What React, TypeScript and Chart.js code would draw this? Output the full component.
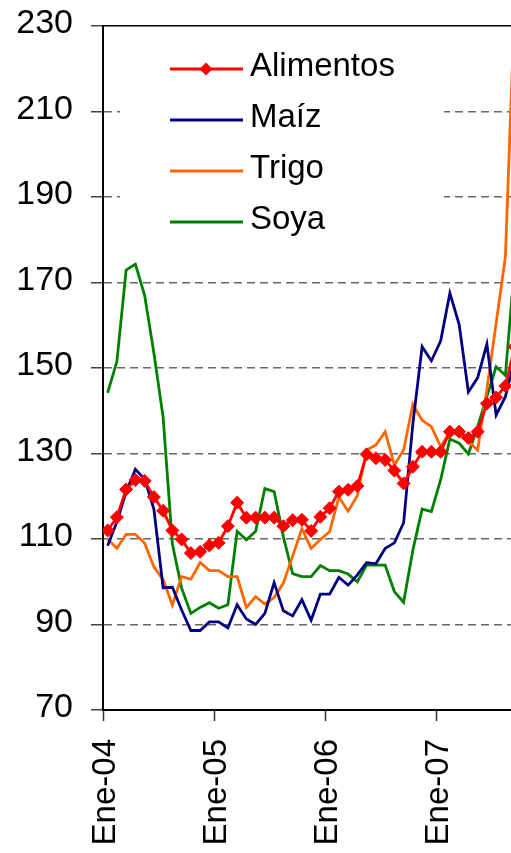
import { useEffect, useRef } from "react";
import { Chart, registerables } from "chart.js";

Chart.register(...registerables);

// Categories: monthly, Jan 2004 .. Sep 2007
const months = [
  "Ene-04", "Feb-04", "Mar-04", "Abr-04", "May-04", "Jun-04", "Jul-04", "Ago-04", "Sep-04", "Oct-04", "Nov-04", "Dic-04",
  "Ene-05", "Feb-05", "Mar-05", "Abr-05", "May-05", "Jun-05", "Jul-05", "Ago-05", "Sep-05", "Oct-05", "Nov-05", "Dic-05",
  "Ene-06", "Feb-06", "Mar-06", "Abr-06", "May-06", "Jun-06", "Jul-06", "Ago-06", "Sep-06", "Oct-06", "Nov-06", "Dic-06",
  "Ene-07", "Feb-07", "Mar-07", "Abr-07", "May-07", "Jun-07", "Jul-07", "Ago-07", "Sep-07",
];
const xTickLabels = ["Ene-04", "Ene-05", "Ene-06", "Ene-07"];
const yTickValues = [70, 90, 110, 130, 150, 170, 190, 210, 230];

const alimentos = [
  112, 115.1, 121.6, 123.8, 123.6, 119.8, 116.6, 112, 109.9, 106.7, 107, 108.5,
  109.1, 113, 118.5, 115, 115, 115, 115, 113, 114.4, 114.5, 111.9, 115.2,
  117.2, 121.1, 121.5, 122.4, 129.8, 128.9, 128.5, 126, 123, 126.9, 130.4, 130.4,
  130.4, 135.1, 135.1, 133.6, 135.1, 141.7, 143.1, 145.8, 155,
];
const maiz = [
  108.4, 114, 121, 126.3, 124, 117, 98.6, 98.7, 93.4, 88.6, 88.6, 90.6,
  90.6, 89.2, 94.6, 91.3, 90, 92.6, 99.8, 93.2, 92, 95.8, 91, 97.1,
  97.1, 101, 99.2, 101.6, 104.5, 104.2, 107.8, 109.1, 113.8, 137, 155, 151.7,
  156.3, 167.5, 160.2, 144.4, 147.7, 155.6, 139, 143.3, 152,
];
const trigo = [
  110, 107.8, 111.1, 111.1, 109, 103.5, 100.5, 94.5, 101.2, 100.6, 104.5, 102.6,
  102.6, 101.2, 101.2, 94, 96.5, 94.8, 96.3, 99.7, 106, 112.4, 107.8, 109.9,
  111.7, 119.8, 116.5, 120.2, 130.8, 132, 135.1, 127.3, 130.8, 141.5, 137.8, 136.3,
  131.6, 135.1, 134.3, 132.8, 130.8, 145, 160.5, 176, 235,
];
const soya = [
  144.2, 151.5, 172.9, 174.3, 167, 153.5, 138.5, 108.8, 98.5, 92.6, 94, 95.1,
  93.8, 94.6, 111.8, 109.8, 111.8, 121.8, 121.1, 110.5, 101.9, 101.2, 101.2, 103.8,
  102.6, 102.6, 101.8, 100, 103.9, 103.9, 103.9, 97.7, 95.2, 107.4, 117, 116.4,
  123.8, 133.4, 132.4, 129.9, 136.3, 143.3, 150.3, 148.3, 174,
];

const seriesNames = ["Alimentos", "Maíz", "Trigo", "Soya"];
const seriesColors = ["#FF0000", "#000080", "#FF6600", "#008000"];

const FONT = "'Liberation Sans', Arial, Helvetica, sans-serif";

const toPoints = (arr: number[]) => arr.map((v, i) => ({ x: i + 0.5, y: v }));

const insideLegend = {
  id: "insideLegend",
  beforeDatasetsDraw(chart: any) {
    const { ctx, chartArea } = chart;
    const left = chartArea.left;
    const top = chartArea.top;
    ctx.save();
    ctx.fillStyle = "#ffffff";
    ctx.fillRect(left + 17, top + 8, 324, 222);
    seriesNames.forEach((name, i) => {
      const y = top + 43 + i * 51;
      ctx.strokeStyle = seriesColors[i];
      ctx.lineWidth = 2.8;
      ctx.beginPath();
      ctx.moveTo(left + 67, y);
      ctx.lineTo(left + 140, y);
      ctx.stroke();
      if (i === 0) {
        const cx = left + 103;
        const r = 6.5;
        ctx.fillStyle = seriesColors[0];
        ctx.beginPath();
        ctx.moveTo(cx, y - r);
        ctx.lineTo(cx + r, y);
        ctx.lineTo(cx, y + r);
        ctx.lineTo(cx - r, y);
        ctx.closePath();
        ctx.fill();
      }
      ctx.fillStyle = "#000";
      ctx.font = `33px ${FONT}`;
      ctx.textAlign = "left";
      ctx.textBaseline = "middle";
      ctx.fillText(name, left + 147, y - 2);
    });
    ctx.restore();
  },
};

export default function App() {
  const ref = useRef<HTMLCanvasElement | null>(null);

  useEffect(() => {
    if (!ref.current) return;
    Chart.defaults.font.family = FONT;
    const datasets = [alimentos, maiz, trigo, soya].map((arr, i) => ({
      label: seriesNames[i],
      data: toPoints(arr),
      borderColor: seriesColors[i],
      backgroundColor: seriesColors[i],
      borderWidth: 2.8,
      tension: 0,
      pointRadius: i === 0 ? 6.5 : 0,
      pointStyle: "rectRot" as const,
      pointBackgroundColor: seriesColors[i],
      pointBorderColor: seriesColors[i],
      pointBorderWidth: 1,
      fill: false,
    }));
    const tickIdx = months
      .map((m, i) => (xTickLabels.includes(m) ? i : -1))
      .filter((i) => i >= 0);

    const chart = new Chart(ref.current, {
      type: "line",
      data: { datasets },
      plugins: [insideLegend],
      options: {
        animation: false,
        responsive: false,
        maintainAspectRatio: false,
        devicePixelRatio: 1,
        layout: { padding: { top: 26, right: 10.75, left: 0, bottom: 0 } },
        plugins: { legend: { display: false }, tooltip: { enabled: false } },
        scales: {
          x: {
            type: "linear",
            min: 0,
            max: months.length,
            afterBuildTicks: (scale: any) => {
              scale.ticks = tickIdx.map((v) => ({ value: v }));
            },
            afterFit: (scale: any) => {
              scale.height = 143;
              scale.paddingLeft = 0;
              scale.paddingRight = 0;
            },
            ticks: {
              autoSkip: false,
              minRotation: 90,
              maxRotation: 90,
              padding: 18,
              labelOffset: 3,
              color: "#000",
              font: { size: 33, family: FONT },
              callback: (value: any) => months[Number(value)] ?? "",
            },
            grid: {
              drawOnChartArea: false,
              drawTicks: true,
              tickLength: 11,
              tickColor: "#333",
              tickWidth: 1.5,
            },
            border: { display: true, color: "#000", width: 2 },
          },
          y: {
            min: 70,
            max: 230,
            afterBuildTicks: (scale: any) => {
              scale.ticks = yTickValues.map((v) => ({ value: v }));
            },
            afterFit: (scale: any) => {
              scale.width = 103;
              scale.paddingTop = 0;
              scale.paddingBottom = 0;
            },
            ticks: {
              padding: 18,
              labelOffset: -2,
              color: "#000",
              font: { size: 34, family: FONT },
            },
            grid: {
              color: (ctx: any) => (ctx.tick && ctx.tick.value === 230 ? "#000" : "#666"),
              lineWidth: 1.5,
              tickLength: 12,
              tickColor: "#444",
              tickWidth: 1.5,
              tickBorderDash: [],
            },
            border: {
              display: true,
              color: "#000",
              width: 2,
              dash: (ctx: any) => (ctx.tick && ctx.tick.value === 230 ? [] : [8, 5]),
            },
          },
        },
      },
    } as any);
    return () => chart.destroy();
  }, []);

  return (
    <div
      style={{
        position: "fixed",
        left: 0,
        top: 0,
        width: 511,
        height: 853,
        overflow: "hidden",
        background: "#fff",
      }}
    >
      <canvas ref={ref} width={530} height={853} style={{ display: "block", width: 530, height: 853 }} />
    </div>
  );
}
